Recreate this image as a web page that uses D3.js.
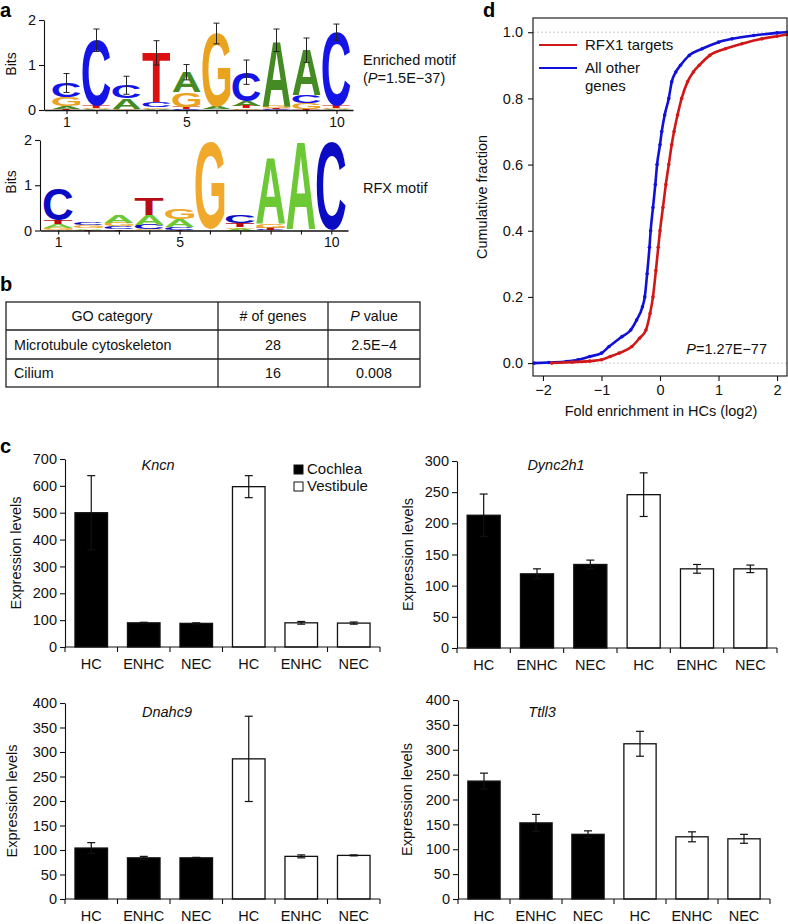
<!DOCTYPE html>
<html><head><meta charset="utf-8">
<script src="https://cdn.jsdelivr.net/npm/d3@7"></script>
<style>
body{margin:0;background:#fff;}
svg{display:block;font-family:"Liberation Sans",Arial,Helvetica,sans-serif;}
</style></head><body>
<svg id="fig" width="788" height="924"></svg>
<script>
// ================= DATA =================
// Panel a: sequence logos (information content, bits, per base, positions 1..10)
const logoPositions = [1,2,3,4,5,6,7,8,9,10];
const logoTickLabels = [1,5,10];
const logoBases = ["A","C","G","T"];
const enrichedA = [0.05,0.02,0.24,0.03,0.45,0.05,0.10,1.45,1.00,0.02];
const enrichedC = [0.32,1.45,0.28,0.10,0.03,0.01,0.64,0.02,0.17,1.64];
const enrichedG = [0.20,0.03,0.02,0.04,0.32,1.63,0.04,0.06,0.13,0.02];
const enrichedT = [0.03,0.05,0.01,1.10,0.04,0.01,0.06,0.02,0.03,0.05];
const enrichedErr = [0.21,0.25,0.20,0.27,0.17,0.23,0.27,0.25,0.27,0.18];
const rfxA = [0.08,0.03,0.16,0.22,0.18,0.01,0.04,1.45,1.93,0.00];
const rfxC = [0.70,0.065,0.06,0.10,0.05,0.01,0.16,0.02,0.01,1.96];
const rfxG = [0.06,0.06,0.07,0.03,0.22,1.93,0.04,0.08,0.01,0.00];
const rfxT = [0.08,0.02,0.03,0.38,0.02,0.01,0.08,0.04,0.01,0.00];

// Panel b: GO table
const goHeaders = ["GO category","# of genes","P value"];
const goCategories = ["Microtubule cytoskeleton","Cilium"];
const goGeneCounts = ["28","16"];
const goPValues = ["2.5E\u22124","0.008"];

// Panel c: expression bars
const cellTypes = ["HC","ENHC","NEC","HC","ENHC","NEC"];
const tissues = ["Cochlea","Cochlea","Cochlea","Vestibule","Vestibule","Vestibule"];
const kncnValues = [500,90,88,597,90,89];
const kncnErrors = [138,2,2,41,5,4];
const dync2h1Values = [213,119,134,246,127,127];
const dync2h1Errors = [34,8,7,35,7,6];
const dnahc9Values = [104,84,84,286,87,89];
const dnahc9Errors = [11,3,1,87,3,1];
const ttll3Values = [237,153,130,312,125,121];
const ttll3Errors = [16,17,7,25,10,9];

// Panel d: cumulative distributions
const otherX = [-2.15,-1.9,-1.6,-1.4,-1.2,-1.0,-0.87,-0.65,-0.5,-0.4,-0.3,-0.26,-0.22,-0.18,-0.16,-0.12,-0.08,-0.05,0.0,0.03,0.08,0.15,0.2,0.27,0.35,0.5,0.72,1.0,1.23,1.6,2.0,2.17];
const otherY = [0.0,0.002,0.005,0.01,0.02,0.03,0.05,0.08,0.1,0.13,0.17,0.2,0.27,0.35,0.4,0.47,0.54,0.6,0.66,0.7,0.75,0.8,0.85,0.88,0.9,0.93,0.95,0.97,0.98,0.99,0.998,1.0];
const rfx1X = [-1.85,-1.5,-1.2,-1.0,-0.85,-0.7,-0.48,-0.35,-0.24,-0.17,-0.12,-0.07,-0.03,0.0,0.05,0.1,0.15,0.2,0.24,0.3,0.37,0.47,0.57,0.67,0.85,1.12,1.4,1.74,2.0,2.17];
const rfx1Y = [0.0,0.003,0.006,0.01,0.02,0.03,0.05,0.075,0.1,0.15,0.2,0.28,0.35,0.4,0.47,0.54,0.6,0.66,0.7,0.75,0.8,0.85,0.88,0.9,0.93,0.95,0.965,0.98,0.988,0.993];
const cdfXTicks = [-2,-1,0,1,2];
const cdfYTicks = [0,0.2,0.4,0.6,0.8,1.0];

// ================= DRAWING =================
const FONT = "Liberation Sans, Arial, Helvetica, sans-serif";
const svg = d3.select("#fig");

function panelLabel(t, x, y){
  svg.append("text").text(t).attr("x",x).attr("y",y)
    .attr("font-size",20).attr("font-weight","bold").attr("fill","#000");
}
function styleAxis(g, fs){
  g.selectAll("text").attr("font-family",FONT).attr("font-size",fs).attr("fill","#111");
  g.selectAll("line,path").attr("stroke","#111").attr("stroke-width",1.1);
}

// ---------- Panel a ----------
const mctx = document.createElement("canvas").getContext("2d");
mctx.font = "bold 100px 'Liberation Sans'";
const glyphCache = {};
function glyphBox(ch){
  if(!glyphCache[ch]){
    const m = mctx.measureText(ch);
    glyphCache[ch] = {l:m.actualBoundingBoxLeft, r:m.actualBoundingBoxRight, a:m.actualBoundingBoxAscent, d:m.actualBoundingBoxDescent};
  }
  return glyphCache[ch];
}
function drawLetter(g, ch, cx, w, yTop, yBot, color){
  const h = yBot - yTop; if(h <= 0.05) return;
  const b = glyphBox(ch);
  const sx = w/(b.l+b.r), sy = h/(b.a+b.d);
  const x0 = cx - w/2;
  g.append("text").text(ch)
    .attr("font-family","Liberation Sans").attr("font-weight","bold").attr("font-size",100)
    .attr("fill",color)
    .attr("transform",`translate(${x0 + b.l*sx},${yBot - b.d*sy}) scale(${sx},${sy})`);
}

function drawLogo(cfg){
  const g = svg.append("g");
  const x = d3.scaleLinear().domain(cfg.xDomain).range(cfg.xRange);
  const y = d3.scaleLinear().domain([0,2]).range(cfg.yRange);
  logoPositions.forEach((p,i)=>{
    const items = logoBases.map(b=>({b, v:cfg.data[b][i]})).sort((a,c)=>a.v-c.v);
    let acc = 0;
    items.forEach(it=>{
      drawLetter(g, it.b, x(p), cfg.letterW, y(acc+it.v), y(acc), cfg.colors[it.b]);
      acc += it.v;
    });
    if(cfg.err){
      const e = cfg.err[i];
      const eg = g.append("g").attr("stroke","#222").attr("stroke-width",1);
      eg.append("line").attr("x1",x(p)).attr("x2",x(p)).attr("y1",y(acc-e)).attr("y2",y(acc+e));
      eg.append("line").attr("x1",x(p)-3).attr("x2",x(p)+3).attr("y1",y(acc+e)).attr("y2",y(acc+e));
      eg.append("line").attr("x1",x(p)-3).attr("x2",x(p)+3).attr("y1",y(acc-e)).attr("y2",y(acc-e));
    }
  });
  const ya = g.append("g").attr("transform",`translate(${cfg.xRange[0]},0)`)
    .call(d3.axisLeft(y).tickValues([0,1,2]).tickFormat(d3.format("d")).tickSize(5).tickPadding(3).tickSizeOuter(0));
  styleAxis(ya, 14.5);
  const xa = g.append("g").attr("transform",`translate(0,${cfg.yRange[0]})`)
    .call(d3.axisBottom(x).tickValues(logoPositions).tickFormat(d=>logoTickLabels.includes(d)?d:"").tickSize(4).tickPadding(3).tickSizeOuter(0));
  styleAxis(xa, 14);
  xa.select(".domain").attr("stroke-width",1.6);
  g.append("text").text("Bits").attr("transform",`translate(${cfg.bitsX},${cfg.bitsY}) rotate(-90)`)
    .attr("text-anchor","middle").attr("font-size",14).attr("fill","#111");
}

drawLogo({
  data:{A:enrichedA,C:enrichedC,G:enrichedG,T:enrichedT}, err:enrichedErr,
  xDomain:[0.25,10.55], xRange:[44,353], yRange:[110,20], letterW:28,
  colors:{A:"#438b22",C:"#1414e6",G:"#e9a31f",T:"#dc1010"}, bitsX:16, bitsY:64
});
drawLogo({
  data:{A:rfxA,C:rfxC,G:rfxG,T:rfxT}, err:null,
  xDomain:[0.4,10.55], xRange:[40,348], yRange:[230.5,140], letterW:29,
  colors:{A:"#6cc935",C:"#0b0bc4",G:"#f0a92a",T:"#b80c14"}, bitsX:16, bitsY:182
});
svg.append("text").attr("x",363).attr("y",65).attr("font-size",14.5).attr("fill","#111").text("Enriched motif");
{
  const t = svg.append("text").attr("x",363).attr("y",83).attr("font-size",14.5).attr("fill","#111");
  t.append("tspan").text("(");
  t.append("tspan").attr("font-style","italic").text("P");
  t.append("tspan").text("=1.5E\u221237)");
}
svg.append("text").attr("x",363).attr("y",193).attr("font-size",14.5).attr("fill","#111").text("RFX motif");
panelLabel("a",0,17);

// ---------- Panel b ----------
panelLabel("b",0,291);
{
  const colX = [6,218,328,420];
  const rowY = [302,330,359,387];
  const tg = svg.append("g");
  tg.append("rect").attr("x",colX[0]).attr("y",rowY[0]).attr("width",colX[3]-colX[0]).attr("height",rowY[3]-rowY[0])
    .attr("fill","none").attr("stroke","#222").attr("stroke-width",1.3);
  [1,2].forEach(i=>tg.append("line").attr("x1",colX[i]).attr("x2",colX[i]).attr("y1",rowY[0]).attr("y2",rowY[3]).attr("stroke","#222").attr("stroke-width",1.3));
  [1,2].forEach(i=>tg.append("line").attr("x1",colX[0]).attr("x2",colX[3]).attr("y1",rowY[i]).attr("y2",rowY[i]).attr("stroke","#222").attr("stroke-width",1.3));
  const fs = 14.3;
  const cx = i=>(colX[i]+colX[i+1])/2;
  const base = r=>rowY[r]+ (rowY[r+1]-rowY[r])/2 + 5;
  tg.append("text").attr("x",cx(0)).attr("y",base(0)).attr("text-anchor","middle").attr("font-size",fs).attr("fill","#111").text(goHeaders[0]);
  tg.append("text").attr("x",cx(1)).attr("y",base(0)).attr("text-anchor","middle").attr("font-size",fs).attr("fill","#111").text(goHeaders[1]);
  const ph = tg.append("text").attr("x",cx(2)).attr("y",base(0)).attr("text-anchor","middle").attr("font-size",fs).attr("fill","#111");
  ph.append("tspan").attr("font-style","italic").text(goHeaders[2].split(" ")[0]);
  ph.append("tspan").text(" " + goHeaders[2].split(" ")[1]);
  goCategories.forEach((c,i)=>{
    tg.append("text").attr("x",colX[0]+8).attr("y",base(i+1)).attr("font-size",fs).attr("fill","#111").text(c);
    tg.append("text").attr("x",cx(1)).attr("y",base(i+1)).attr("text-anchor","middle").attr("font-size",fs).attr("fill","#111").text(goGeneCounts[i]);
    tg.append("text").attr("x",cx(2)).attr("y",base(i+1)).attr("text-anchor","middle").attr("font-size",fs).attr("fill","#111").text(goPValues[i]);
  });
}

// ---------- Panel c ----------
panelLabel("c",0,453);
function barChart(cfg){
  const g = svg.append("g");
  const x = d3.scaleBand().domain(d3.range(cellTypes.length)).range([cfg.x0,cfg.x1]).paddingInner(0.38).paddingOuter(0.19);
  const y = d3.scaleLinear().domain([0,cfg.max]).range([cfg.yBase,cfg.yTop]);
  const bw = x.bandwidth();
  g.selectAll("rect.bar").data(cfg.values).join("rect").attr("class","bar")
    .attr("x",(d,i)=>x(i)).attr("width",bw)
    .attr("y",d=>y(d)).attr("height",d=>y(0)-y(d))
    .attr("fill",(d,i)=>tissues[i]==="Cochlea"?"#000":"#fff")
    .attr("stroke","#111").attr("stroke-width",1.3);
  cfg.values.forEach((v,i)=>{
    const e = cfg.errors[i], cx = x(i)+bw/2;
    const eg = g.append("g").attr("stroke","#111").attr("stroke-width",1.2);
    eg.append("line").attr("x1",cx).attr("x2",cx).attr("y1",y(v-e)).attr("y2",y(v+e));
    eg.append("line").attr("x1",cx-4).attr("x2",cx+4).attr("y1",y(v+e)).attr("y2",y(v+e));
    eg.append("line").attr("x1",cx-4).attr("x2",cx+4).attr("y1",y(v-e)).attr("y2",y(v-e));
  });
  const ya = g.append("g").attr("transform",`translate(${cfg.x0},0)`)
    .call(d3.axisLeft(y).tickValues(d3.range(0,cfg.max+1,cfg.step)).tickSize(5).tickPadding(3).tickSizeOuter(0));
  styleAxis(ya, 14.5);
  const step = x.step();
  const bounds = d3.range(cellTypes.length+1).map(k=>cfg.x0 + k*step);
  g.append("line").attr("x1",cfg.x0).attr("x2",cfg.x1).attr("y1",y(0)).attr("y2",y(0)).attr("stroke","#111").attr("stroke-width",1.1);
  g.selectAll("line.bt").data(bounds).join("line").attr("class","bt")
    .attr("x1",d=>d).attr("x2",d=>d).attr("y1",y(0)).attr("y2",y(0)+5).attr("stroke","#111").attr("stroke-width",1.1);
  g.selectAll("text.xl").data(cellTypes).join("text").attr("class","xl")
    .attr("x",(d,i)=>x(i)+bw/2).attr("y",y(0)+22).attr("text-anchor","middle")
    .attr("font-size",14.5).attr("fill","#111").text(d=>d);
  g.append("text").text(cfg.title).attr("x",cfg.titleX).attr("y",cfg.titleY).attr("text-anchor","middle")
    .attr("font-size",14.5).attr("font-style","italic").attr("fill","#111");
  g.append("text").text("Expression levels").attr("transform",`translate(${cfg.labX},${(cfg.yBase+cfg.yTop)/2}) rotate(-90)`)
    .attr("text-anchor","middle").attr("font-size",14.5).attr("fill","#111");
  if(cfg.legend){
    const lg = g.append("g");
    ["Cochlea","Vestibule"].forEach((t,i)=>{
      lg.append("rect").attr("x",294).attr("y",465+i*17).attr("width",9).attr("height",9)
        .attr("fill",t==="Cochlea"?"#000":"#fff").attr("stroke","#111").attr("stroke-width",1);
      lg.append("text").attr("x",307).attr("y",474+i*17).attr("font-size",15).attr("fill","#111").text(t);
    });
  }
}
barChart({values:kncnValues, errors:kncnErrors, title:"Kncn", x0:65, x1:380, yBase:647, yTop:459, max:700, step:100, titleX:158, titleY:470, labX:21, legend:true});
barChart({values:dync2h1Values, errors:dync2h1Errors, title:"Dync2h1", x0:457, x1:777, yBase:648, yTop:461, max:300, step:50, titleX:556, titleY:470, labX:413});
barChart({values:dnahc9Values, errors:dnahc9Errors, title:"Dnahc9", x0:65, x1:380, yBase:899, yTop:703, max:400, step:50, titleX:167, titleY:717, labX:17});
barChart({values:ttll3Values, errors:ttll3Errors, title:"Ttll3", x0:458, x1:770, yBase:899, yTop:700, max:400, step:50, titleX:542, titleY:717, labX:412});

// ---------- Panel d ----------
panelLabel("d",483,17);
{
  const L=533, R=787, T=18, B=376;
  const x = d3.scaleLinear().domain([-2.17,2.17]).range([L,R]);
  const y = d3.scaleLinear().domain([-0.039,1.043]).range([B,T]);
  const g = svg.append("g");
  [0,1].forEach(v=>g.append("line").attr("x1",L).attr("x2",R).attr("y1",y(v)).attr("y2",y(v))
    .attr("stroke","#c8c8d0").attr("stroke-width",1).attr("stroke-dasharray","2,2"));
  const series = [
    {xs:otherX, ys:otherY, color:"#1010d8"},
    {xs:rfx1X, ys:rfx1Y, color:"#d01818"}
  ];
  series.forEach(s=>{
    const pts = s.xs.map((v,i)=>[v,s.ys[i]]);
    g.append("path").datum(pts).attr("fill","none").attr("stroke",s.color).attr("stroke-width",2.6)
      .attr("d",d3.line().x(d=>x(d[0])).y(d=>y(d[1])).curve(d3.curveMonotoneX));
    g.selectAll(null).data(pts).join("circle").attr("cx",d=>x(d[0])).attr("cy",d=>y(d[1])).attr("r",1.8).attr("fill",s.color);
  });
  g.append("rect").attr("x",L).attr("y",T).attr("width",R-L).attr("height",B-T).attr("fill","none").attr("stroke","#222").attr("stroke-width",1.2);
  const ya = g.append("g").attr("transform",`translate(${L},0)`)
    .call(d3.axisLeft(y).tickValues(cdfYTicks).tickFormat(d3.format(".1f")).tickSize(5).tickPadding(5).tickSizeOuter(0));
  ya.select(".domain").remove();
  styleAxis(ya, 14.5);
  const xa = g.append("g").attr("transform",`translate(0,${B})`)
    .call(d3.axisBottom(x).tickValues(cdfXTicks).tickFormat(d3.format("d")).tickSize(5).tickPadding(4).tickSizeOuter(0));
  xa.select(".domain").remove();
  styleAxis(xa, 14.5);
  g.append("text").attr("x",661).attr("y",416).attr("text-anchor","middle").attr("font-size",14.5).attr("fill","#111").text("Fold enrichment in HCs (log2)");
  g.append("text").attr("transform",`translate(487,197) rotate(-90)`).attr("text-anchor","middle").attr("font-size",14.5).attr("fill","#111").text("Cumulative fraction");
  const leg = [{t:["RFX1 targets"],c:"#d01818",y:45},{t:["All other","genes"],c:"#1010d8",y:68}];
  leg.forEach(l=>{
    g.append("line").attr("x1",539).attr("x2",577).attr("y1",l.y).attr("y2",l.y).attr("stroke",l.c).attr("stroke-width",2.2);
    l.t.forEach((s,k)=>g.append("text").attr("x",585).attr("y",l.y+5+k*18).attr("font-size",15).attr("fill","#111").text(s));
  });
  const pt = g.append("text").attr("x",767).attr("y",354).attr("text-anchor","end").attr("font-size",14.5).attr("fill","#111");
  pt.append("tspan").attr("font-style","italic").text("P");
  pt.append("tspan").text("=1.27E\u221277");
}
</script>
</body></html>
